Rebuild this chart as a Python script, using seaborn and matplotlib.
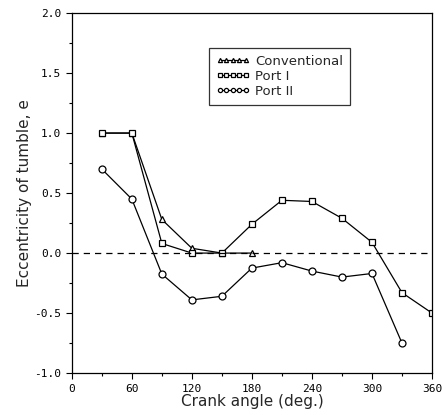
import matplotlib
matplotlib.use("Agg")
import matplotlib.pyplot as plt
import seaborn as sns
import pandas as pd
from matplotlib.ticker import MultipleLocator

conv_angle = [30, 60, 90, 120, 150, 180]
conv_e = [1.0, 1.0, 0.28, 0.04, 0.0, 0.0]

port1_angle = [30, 60, 90, 120, 150, 180, 210, 240, 270, 300, 330, 360]
port1_e = [1.0, 1.0, 0.08, 0.0, 0.0, 0.24, 0.44, 0.43, 0.29, 0.09, -0.33, -0.50]

port2_angle = [30, 60, 90, 120, 150, 180, 210, 240, 270, 300, 330]
port2_e = [0.70, 0.45, -0.175, -0.39, -0.36, -0.125, -0.08, -0.15, -0.20, -0.17, -0.75]

series = [
    ("Conventional", conv_angle, conv_e, "^"),
    ("Port I", port1_angle, port1_e, "s"),
    ("Port II", port2_angle, port2_e, "o"),
]

sns.set_style("ticks")
plt.rcParams['font.family'] = ['DejaVu Sans']

fig = plt.figure(figsize=(4.46, 4.15), dpi=100)
ax = fig.add_axes([0.161, 0.101, 0.8076, 0.8675])

for name, xs, ys, mk in series:
    df = pd.DataFrame({"angle": xs, "e": ys})
    sns.lineplot(data=df, x="angle", y="e", ax=ax, color="black", lw=0.9,
                 marker=mk, markersize=5, markerfacecolor="white",
                 markeredgecolor="black", markeredgewidth=0.9, label=name)

ax.axhline(0, color="black", lw=0.9, ls=(0, (5, 4)))

ax.set_xlim(0, 360)
ax.set_ylim(-1.0, 2.0)
ax.xaxis.set_major_locator(MultipleLocator(60))
ax.xaxis.set_minor_locator(MultipleLocator(30))
ax.yaxis.set_major_locator(MultipleLocator(0.5))
ax.yaxis.set_minor_locator(MultipleLocator(0.25))
ax.set_xticklabels([f"{int(v)}" for v in ax.get_xticks()], fontsize=8, family="DejaVu Sans Mono")
ax.yaxis.set_major_formatter(matplotlib.ticker.FormatStrFormatter("%.1f"))
for lab in ax.get_yticklabels():
    lab.set_fontsize(8)
    lab.set_family("DejaVu Sans Mono")
ax.tick_params(which="both", direction="out", length=4, width=0.8, colors="black")
ax.tick_params(which="minor", length=2.5)
for sp in ax.spines.values():
    sp.set_linewidth(0.9)
    sp.set_color("black")
    sp.set_visible(True)

ax.set_xlabel("Crank angle (deg.)", fontsize=11, labelpad=0)
ax.set_ylabel("Eccentricity of tumble, e", fontsize=11, labelpad=2)

leg = ax.legend(loc="upper right", bbox_to_anchor=(0.79, 0.92), numpoints=5,
                handlelength=2.6, markerscale=0.6, fontsize=9.5, frameon=True,
                fancybox=False, edgecolor="black", borderpad=0.5,
                labelspacing=0.15, handletextpad=0.4)
leg.get_frame().set_linewidth(0.9)

fig.savefig("out.png", dpi=100)
